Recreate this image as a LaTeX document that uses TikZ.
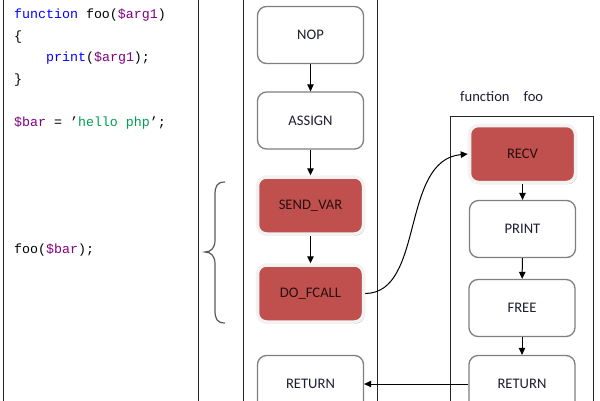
\documentclass[tikz,border=0pt]{standalone}
\usepackage{fontspec}
\setmainfont{Carlito}
\newfontfamily\codefont{Liberation Mono}
\usetikzlibrary{shadows,arrows.meta}
\definecolor{kw}{RGB}{0,0,255}
\definecolor{var}{RGB}{128,0,128}
\definecolor{str}{RGB}{0,160,80}
\definecolor{redfill}{RGB}{192,80,77}
\definecolor{bordergray}{RGB}{127,127,127}
\definecolor{optext}{RGB}{30,30,50}
\definecolor{glow}{RGB}{242,242,242}
\definecolor{hottext}{RGB}{40,15,15}
\begin{document}
\begin{tikzpicture}[x=1pt,y=-1pt,
  op/.style={draw=bordergray, line width=1.3pt, rounded corners=9pt, fill=white,
    minimum width=106pt, minimum height=57pt, inner sep=0pt,
    font=\fontsize{14.6}{16}\selectfont, text=optext},
  hot/.style={op, fill=redfill, draw=glow, line width=3.5pt, text=hottext,
    drop shadow={shadow xshift=1.2pt, shadow yshift=-1.6pt, fill=black, opacity=0.35}},
  code/.style={anchor=west, inner sep=0pt, font=\codefont\fontsize{13.3}{16}\selectfont},
  frame/.style={draw=black!85, line width=1pt},
  flow/.style={draw=black, line width=1pt, -{Triangle[length=7pt,width=6.5pt]}},
  brace/.style={draw=black!65, line width=1.2pt},
]
\useasboundingbox (0,0) rectangle (600,400);
\clip (0,0) rectangle (600,400);

% frames
\draw[frame] (3,-10) rectangle (198,410);
\draw[frame] (243,-10) rectangle (377,410);
\draw[frame] (450,116) rectangle (593,410);

% code
\node[code] (c0) at (14,-6.5) {<?php};
\node[code] (c1) at (14,15) {\textcolor{kw}{function} foo(\textcolor{var}{\$arg1})};
\node[code] (c2) at (14,37) {\{};
\node[code] (c3) at (46,58.5) {\textcolor{kw}{print}(\textcolor{var}{\$arg1});};
\node[code] (c4) at (14,80) {\}};
\node[code] (c5) at (14,123) {\textcolor{var}{\$bar} = ’\textcolor{str}{hello php}’;};
\node[code] (c6) at (14,250) {foo(\textcolor{var}{\$bar});};

% brace
\draw[brace] (225,182) .. controls (217,182) and (215,186) .. (215,195)
  -- (215,240) .. controls (215,248) and (211,252) .. (205,252)
  .. controls (211,252) and (215,256) .. (215,264)
  -- (215,310) .. controls (215,319) and (217,323) .. (225,323);

% main column
\node[op] (nop) at (310.5,35) {NOP};
\node[op] (assign) at (310.5,120.5) {ASSIGN};
\node[hot] (sendvar) at (310.5,205.5) {SEND\_VAR};
\node[hot] (fcall) at (310.5,293.5) {DO\_FCALL};
\node[op] (ret1) at (310.5,384) {RETURN};

% function foo
\node[anchor=west, inner sep=0pt, font=\fontsize{14.6}{16}\selectfont, text=optext] (fnlabel) at (460,97) {function\hspace{14pt}foo};
\node[hot] (recv) at (522.5,154) {RECV};
\node[op] (print) at (522.5,229) {PRINT};
\node[op] (free) at (522,308) {FREE};
\node[op] (ret2) at (522,384) {RETURN};

% connectors
\draw[flow] (nop) -- (assign);
\draw[flow] (assign) -- (sendvar);
\draw[flow] (sendvar) -- (fcall);
\draw[flow] (recv) -- (print);
\draw[flow] (print) -- (free);
\draw[flow] (free) -- (ret2);
\draw[flow] (fcall.east) .. controls (425,293) and (400,160) .. (recv.west);
\draw[flow] (ret2.west) -- (ret1.east);
\end{tikzpicture}
\end{document}
